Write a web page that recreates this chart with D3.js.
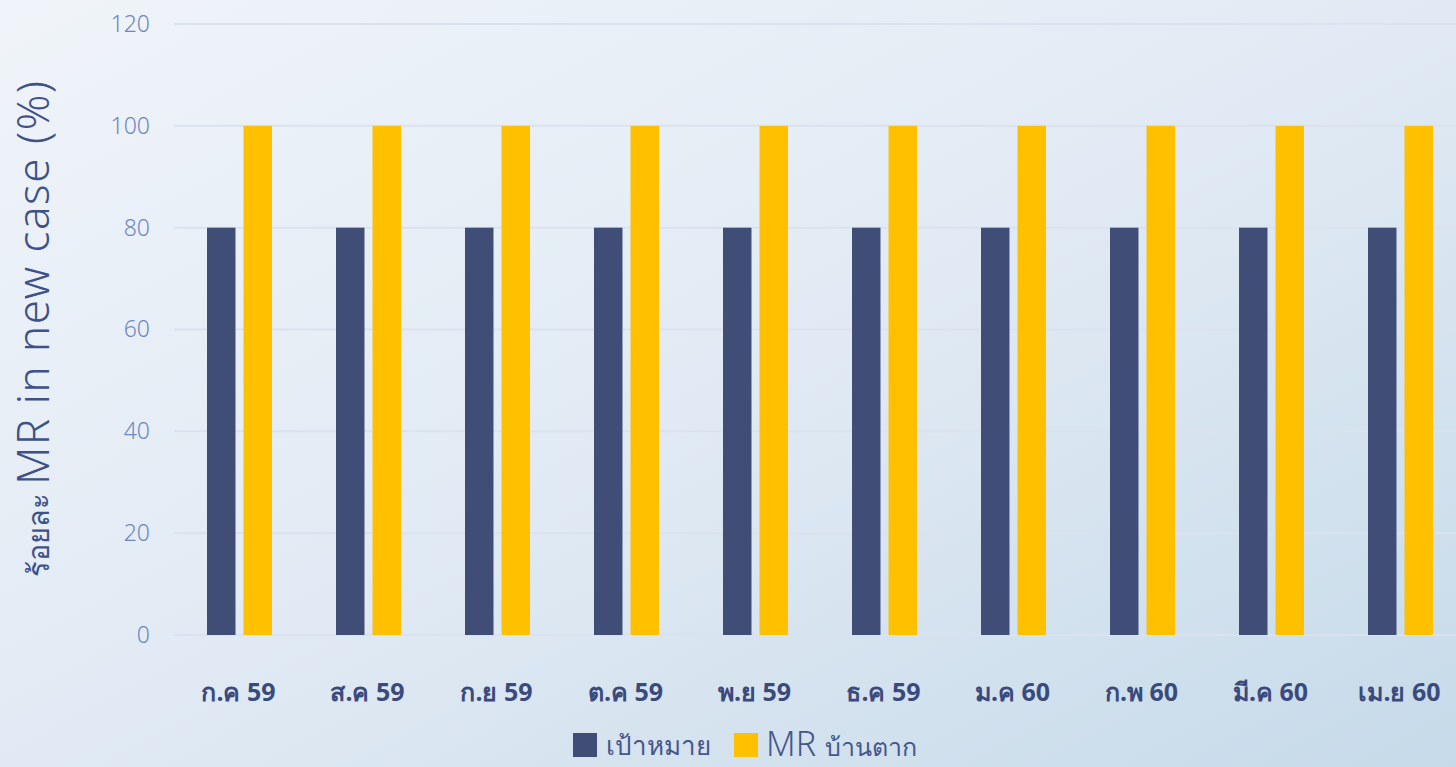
<!DOCTYPE html>
<html>
<head>
<meta charset="utf-8">
<script src="https://cdn.jsdelivr.net/npm/d3@7"></script>
<style>
  html, body { margin: 0; padding: 0; }
  body { width: 1456px; height: 767px; overflow: hidden; }
  svg { display: block; }
</style>
</head>
<body>
<svg id="chart" width="1456" height="767"></svg>
<script>
// Monthly MR share in new cases: target vs. Ban Tak
const months = ["ก.ค 59", "ส.ค 59", "ก.ย 59", "ต.ค 59", "พ.ย 59", "ธ.ค 59", "ม.ค 60", "ก.พ 60", "มี.ค 60", "เม.ย 60"];
const targetValues = [80, 80, 80, 80, 80, 80, 80, 80, 80, 80];
const banTakValues = [100, 100, 100, 100, 100, 100, 100, 100, 100, 100];
const seriesNames = ["เป้าหมาย", "บ้านตาก"];
const yTicks = [0, 20, 40, 60, 80, 100, 120];

const W = 1456, H = 767;
const svg = d3.select("#chart");

// soft background gradient
const defs = svg.append("defs");
const grad = defs.append("linearGradient").attr("id", "bg")
  .attr("x1", "0%").attr("y1", "0%").attr("x2", "100%").attr("y2", "100%");
grad.append("stop").attr("offset", "0%").attr("stop-color", "#f0f4f9");
grad.append("stop").attr("offset", "50%").attr("stop-color", "#e1eaf4");
grad.append("stop").attr("offset", "100%").attr("stop-color", "#c6dae9");
svg.append("rect").attr("width", W).attr("height", H).attr("fill", "url(#bg)");

const plot = { left: 174, right: 1464, top: 24, bottom: 635 };

const x = d3.scaleBand().domain(months).range([plot.left, plot.right]).paddingInner(0).paddingOuter(0);
const y = d3.scaleLinear().domain([0, 120]).range([plot.bottom, plot.top]);

const series = [
  { name: seriesNames[0], values: targetValues, color: "#3f4d77" },
  { name: seriesNames[1], values: banTakValues, color: "#ffc000" }
];
const inner = d3.scaleBand().domain([0, 1]).range([33, 98]).paddingInner(0.22);

// gridlines
const grid = svg.append("g");
grid.selectAll("line").data(yTicks).join("line")
  .attr("x1", plot.left).attr("x2", W)
  .attr("y1", d => y(d)).attr("y2", d => y(d))
  .attr("stroke", "#dbe2ef").attr("stroke-width", 2);

// y axis tick labels
const yAxis = d3.axisLeft(y).tickValues(yTicks).tickSize(0).tickPadding(24);
const yg = svg.append("g").attr("transform", `translate(${plot.left},0)`).call(yAxis);
yg.select(".domain").remove();
yg.selectAll("text")
  .attr("font-family", "'Noto Sans', sans-serif")
  .attr("font-weight", 300)
  .attr("font-size", 23)
  .attr("fill", "#6f87c2");

// bars
series.forEach((s, si) => {
  svg.append("g").selectAll("rect").data(months).join("rect")
    .attr("x", (m) => x(m) + inner(si))
    .attr("width", inner.bandwidth())
    .attr("y", (m, i) => y(s.values[i]))
    .attr("height", (m, i) => y(0) - y(s.values[i]))
    .attr("fill", s.color);
});

// x axis labels
const xAxis = d3.axisBottom(x).tickSize(0).tickPadding(48);
const xg = svg.append("g").attr("transform", `translate(0,${plot.bottom})`).call(xAxis);
xg.select(".domain").remove();
xg.selectAll("text")
  .attr("font-family", "'Noto Sans', sans-serif")
  .attr("font-weight", 700)
  .attr("font-size", 25)
  .attr("fill", "#3a4a7c");

// y axis title
const yt = svg.append("text")
  .attr("transform", "translate(49,328) rotate(-90)")
  .attr("text-anchor", "middle")
  .attr("fill", "#3e5189")
  .attr("font-family", "'Noto Sans', sans-serif")
  .attr("font-weight", 300);
yt.append("tspan").attr("font-size", 29).text("ร้อยละ ");
yt.append("tspan").attr("font-size", 44).attr("letter-spacing", 1.5).text("MR in new case (%)");

// legend
const lg = svg.append("g");
lg.append("rect").attr("x", 573).attr("y", 733).attr("width", 24).attr("height", 24).attr("fill", series[0].color);
lg.append("text").attr("x", 606).attr("y", 755)
  .attr("font-family", "'Noto Sans', sans-serif").attr("font-weight", 300)
  .attr("font-size", 26).attr("fill", "#45578c").text(series[0].name);
lg.append("rect").attr("x", 734).attr("y", 733).attr("width", 24).attr("height", 24).attr("fill", series[1].color);
const lt = lg.append("text").attr("x", 766).attr("y", 756)
  .attr("font-family", "'Noto Sans', sans-serif").attr("font-weight", 300)
  .attr("fill", "#45578c");
lt.append("tspan").attr("font-size", 34).text("MR ");
lt.append("tspan").attr("font-size", 25).text(series[1].name);
</script>
</body>
</html>
